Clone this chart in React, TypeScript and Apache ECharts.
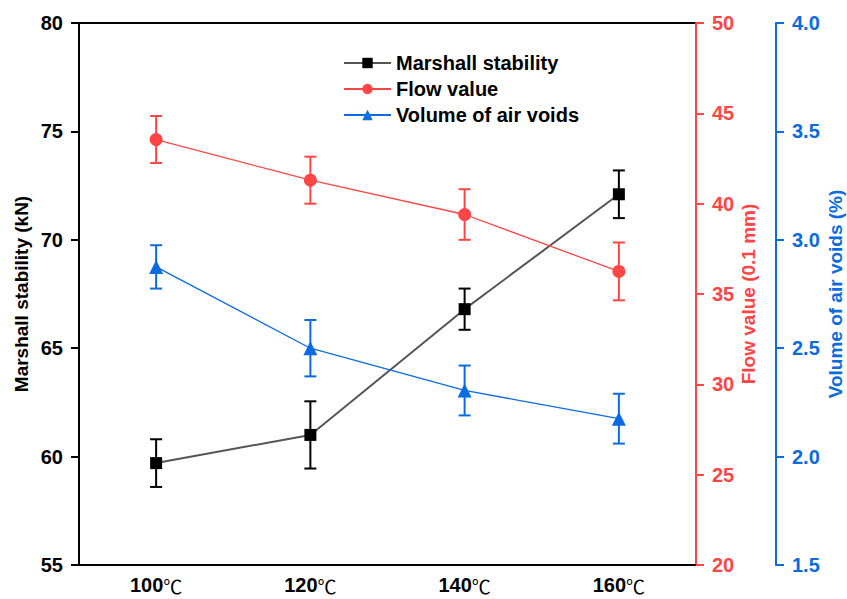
import React, { useEffect, useRef } from "react";
import * as echarts from "echarts";

const categories = ["100", "120", "140", "160"];
const stability = [59.7, 61.0, 66.8, 72.1];
const stabilityErr = [1.1, 1.55, 0.95, 1.1];
const flow = [43.55, 41.3, 39.4, 36.25];
const flowErr = [1.3, 1.3, 1.4, 1.6];
const voids = [2.875, 2.5, 2.305, 2.175];
const voidsErr = [0.1, 0.13, 0.115, 0.115];

const leftTicks = { min: 55, max: 80, interval: 5 };
const flowTicks = { min: 20, max: 50, interval: 5 };
const voidTicks = { min: 1.5, max: 4.0, interval: 0.5 };

const RED = "#FF4545";
const BLUE = "#0A6CE0";
const FONT = "Liberation Sans, Arial, sans-serif";

function errData(vals: number[], errs: number[]) {
  return vals.map((v, i) => [i, v - errs[i], v + errs[i]]);
}

function errSeries(name: string, vals: number[], errs: number[], yIdx: number, color: string) {
  return {
    type: "custom",
    name: name + " err",
    xAxisIndex: 0,
    yAxisIndex: yIdx,
    data: errData(vals, errs),
    encode: { x: 0, y: [1, 2] },
    z: 3,
    renderItem: (params: any, api: any) => {
      const x = api.value(0);
      const lo = api.coord([x, api.value(1)]);
      const hi = api.coord([x, api.value(2)]);
      const h = 6;
      const st = { stroke: color, lineWidth: 2 };
      return {
        type: "group",
        children: [
          { type: "line", shape: { x1: lo[0], y1: lo[1], x2: hi[0], y2: hi[1] }, style: st },
          { type: "line", shape: { x1: lo[0] - h, y1: lo[1], x2: lo[0] + h, y2: lo[1] }, style: st },
          { type: "line", shape: { x1: hi[0] - h, y1: hi[1], x2: hi[0] + h, y2: hi[1] }, style: st },
        ],
      };
    },
  };
}

export default function App() {
  const ref = useRef<HTMLDivElement>(null);
  useEffect(() => {
    document.body.style.margin = "0";
    document.body.style.overflow = "hidden";
    if (!ref.current) return;
    const chart = echarts.init(ref.current, undefined, { renderer: "svg" });
    const labelStyle = { fontFamily: FONT, fontWeight: "bold", fontSize: 20 };
    chart.setOption({
      animation: false,
      grid: {
        left: 79,
        right: 151,
        top: 23,
        bottom: 34,
        outerBoundsMode: "none",
        containLabel: false,
        show: true,
        borderColor: "#000",
        borderWidth: 2,
        backgroundColor: "transparent",
      },
      legend: {
        orient: "vertical",
        left: 338,
        top: 48,
        itemWidth: 47,
        itemHeight: 13,
        itemGap: 6,
        data: ["Marshall stability", "Flow value", "Volume of air voids"],
        textStyle: { color: "#000", fontFamily: FONT, fontWeight: "bold", fontSize: 20, lineHeight: 19 },
      },
      xAxis: {
        type: "category",
        data: categories,
        boundaryGap: true,
        axisLine: { lineStyle: { color: "#000", width: 2 } },
        axisTick: { alignWithLabel: true, length: 6, lineStyle: { color: "#000", width: 2 } },
        axisLabel: {
          margin: 10,
          formatter: (v: string) => `{b|${v}}{c|℃}`,
          rich: {
            b: { ...labelStyle, color: "#000" },
            c: { fontFamily: "Noto Sans CJK SC", fontWeight: "normal", fontSize: 19, color: "#000" },
          },
        },
        splitLine: { show: false },
      },
      yAxis: [
        {
          type: "value",
          ...leftTicks,
          position: "left",
          name: "Marshall stability (kN)",
          nameLocation: "middle",
          nameGap: 48,
          nameMoveOverlap: false,
          nameTextStyle: { ...labelStyle, fontSize: 19, color: "#000" },
          axisLine: { show: true, lineStyle: { color: "#000", width: 2 } },
          axisTick: { show: true, length: 8, lineStyle: { color: "#000", width: 2 } },
          axisLabel: { ...labelStyle, color: "#000", margin: 16 },
          splitLine: { show: false },
        },
        {
          type: "value",
          ...flowTicks,
          position: "right",
          name: "Flow value (0.1 mm)",
          nameLocation: "middle",
          nameGap: 43,
          nameMoveOverlap: false,
          nameTextStyle: { ...labelStyle, fontSize: 19, color: RED },
          axisLine: { show: true, lineStyle: { color: RED, width: 2 } },
          axisTick: { show: true, length: 8, lineStyle: { color: RED, width: 2 } },
          axisLabel: { ...labelStyle, color: RED, margin: 16 },
          splitLine: { show: false },
        },
        {
          type: "value",
          ...voidTicks,
          position: "right",
          offset: 80,
          name: "Volume of air voids (%)",
          nameLocation: "middle",
          nameGap: 50,
          nameMoveOverlap: false,
          nameTextStyle: { ...labelStyle, fontSize: 19, color: BLUE },
          axisLine: { show: true, lineStyle: { color: BLUE, width: 2 } },
          axisTick: { show: true, length: 8, lineStyle: { color: BLUE, width: 2 } },
          axisLabel: {
            ...labelStyle,
            color: BLUE,
            margin: 16,
            formatter: (v: number) => v.toFixed(1),
          },
          splitLine: { show: false },
        },
      ],
      series: [
        {
          type: "line",
          name: "Marshall stability",
          yAxisIndex: 0,
          data: stability,
          symbol: "rect",
          symbolSize: 12,
          itemStyle: { color: "#000" },
          lineStyle: { color: "#555", width: 2 },
          z: 4,
        },
        {
          type: "line",
          name: "Flow value",
          yAxisIndex: 1,
          data: flow,
          symbol: "circle",
          symbolSize: 13,
          itemStyle: { color: RED },
          lineStyle: { color: RED, width: 1.3 },
          z: 4,
        },
        {
          type: "line",
          name: "Volume of air voids",
          yAxisIndex: 2,
          data: voids,
          symbol: "triangle",
          symbolSize: 14,
          itemStyle: { color: BLUE },
          lineStyle: { color: BLUE, width: 1.3 },
          z: 4,
        },
        errSeries("Marshall stability", stability, stabilityErr, 0, "#000"),
        errSeries("Flow value", flow, flowErr, 1, RED),
        errSeries("Volume of air voids", voids, voidsErr, 2, BLUE),
      ],
    });
    return () => chart.dispose();
  }, []);
  return <div ref={ref} style={{ width: 847, height: 599 }} />;
}
